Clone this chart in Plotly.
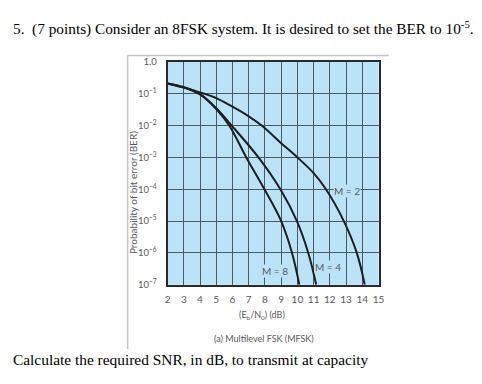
import math
import plotly.graph_objects as go

# ---- data ----
x_m2 = [2, 3, 4, 5, 6, 7, 7.8, 9, 10, 11, 11.76, 12.86, 13.66, 14.15]
ber_m2 = [0.21, 0.155, 0.11, 0.073, 0.039, 0.0195, 0.01, 0.0028, 0.001, 3.2e-4, 1e-4, 1e-5, 1e-6, 1e-7]

x_m4 = [2, 3, 4, 5, 5.95, 7.6, 8.95, 9.97, 10.67, 11.16]
ber_m4 = [0.21, 0.16, 0.097, 0.035, 0.01, 1e-3, 1e-4, 1e-5, 1e-6, 1e-7]

x_m8 = [2, 3, 4, 5, 5.8, 6.85, 7.97, 9.0, 9.67, 10.12]
ber_m8 = [0.21, 0.16, 0.095, 0.033, 0.01, 1e-3, 1e-4, 1e-5, 1e-6, 1e-7]

x_ticks = list(range(2, 16))
y_tickvals = [1, 1e-1, 1e-2, 1e-3, 1e-4, 1e-5, 1e-6, 1e-7]
y_ticktext = ["1.0", "10<sup>−1</sup>", "10<sup>−2</sup>", "10<sup>−3</sup>", "10<sup>−4</sup>",
              "10<sup>−5</sup>", "10<sup>−6</sup>", "10<sup>−7</sup>"]

curve_labels = ["M = 2", "M = 4", "M = 8"]
label_x = [13.05, 11.87, 8.6]
label_ber = [9e-5, 3.6e-7, 2.7e-7]

W, H = 482, 384
def px(x):
    return x / W
def py(y):
    return 1 - y / H

BG = "#bae3f7"
GRID = "#4a5a65"
CURVE = "#1e1e1e"
GRAY = "#5a5a5a"

fig = go.Figure()
for xs, ys in [(x_m2, ber_m2), (x_m4, ber_m4), (x_m8, ber_m8)]:
    fig.add_trace(go.Scatter(x=xs, y=ys, mode="lines",
                             line=dict(color=CURVE, width=2, shape="spline", smoothing=1.0),
                             showlegend=False, hoverinfo="skip"))

for text, lx, lb in zip(curve_labels, label_x, label_ber):
    fig.add_annotation(x=lx, y=math.log10(lb), xref="x", yref="y", yanchor="middle", text=text,
                       showarrow=False, font=dict(family="Lato", size=10, color=GRAY),
                       bgcolor=BG, borderpad=0)

fig.update_layout(
    width=W, height=H,
    margin=dict(l=0, r=0, t=0, b=0),
    paper_bgcolor="white",
    plot_bgcolor=BG,
    xaxis=dict(domain=[px(167.7), px(382.7)], range=[2, 15], tickvals=x_ticks,
               showgrid=True, gridcolor=GRID, gridwidth=1.3,
               showline=True, linecolor="#2a2a2a", linewidth=2, mirror=True,
               ticks="", ticklabelstandoff=4, zeroline=False,
               tickfont=dict(family="Lato", size=10, color=GRAY)),
    yaxis=dict(domain=[py(287), py(57.5)], type="log", range=[-7, 0],
               tickvals=y_tickvals, ticktext=y_ticktext,
               showgrid=True, gridcolor=GRID, gridwidth=1.3,
               showline=True, linecolor="#2a2a2a", linewidth=2, mirror=True,
               ticks="", ticklabelstandoff=7, zeroline=False,
               tickfont=dict(family="Lato", size=9.5, color=GRAY)),
)

# frame lines (top and left)
fig.add_shape(type="line", xref="paper", yref="paper", x0=px(127), x1=px(393), y0=py(51), y1=py(51),
              line=dict(color="#c4c4c4", width=1.5))
fig.add_shape(type="line", xref="paper", yref="paper", x0=px(127), x1=px(127), y0=py(51), y1=py(353),
              line=dict(color="#c4c4c4", width=1.5))

# texts
fig.add_annotation(xref="paper", yref="paper", x=px(8), y=py(23), xanchor="left", yanchor="middle",
                   text="5.&nbsp; (7 points) Consider an 8FSK system. It is desired to set the BER to 10<sup>-5</sup>.",
                   showarrow=False, font=dict(family="Liberation Serif", size=15.3, color="black"))
fig.add_annotation(xref="paper", yref="paper", x=px(8), y=py(364), xanchor="left", yanchor="middle",
                   text="Calculate the required SNR, in dB, to transmit at capacity",
                   showarrow=False, font=dict(family="Liberation Serif", size=15.4, color="black"))
fig.add_annotation(xref="paper", yref="paper", x=px(132), y=py(192), xanchor="center", yanchor="middle",
                   text="Probability of bit error (BER)", textangle=-90,
                   showarrow=False, font=dict(family="Lato", size=10, color=GRAY))
fig.add_annotation(xref="paper", yref="paper", x=px(264), y=py(318), xanchor="center", yanchor="middle",
                   text="(E<sub>b</sub>/N<sub>0</sub>) (dB)",
                   showarrow=False, font=dict(family="Lato", size=9, color=GRAY))
fig.add_annotation(xref="paper", yref="paper", x=px(266), y=py(342), xanchor="center", yanchor="middle",
                   text="(a) Multilevel FSK (MFSK)",
                   showarrow=False, font=dict(family="Lato", size=9, color=GRAY))

fig.write_html("out.html")
